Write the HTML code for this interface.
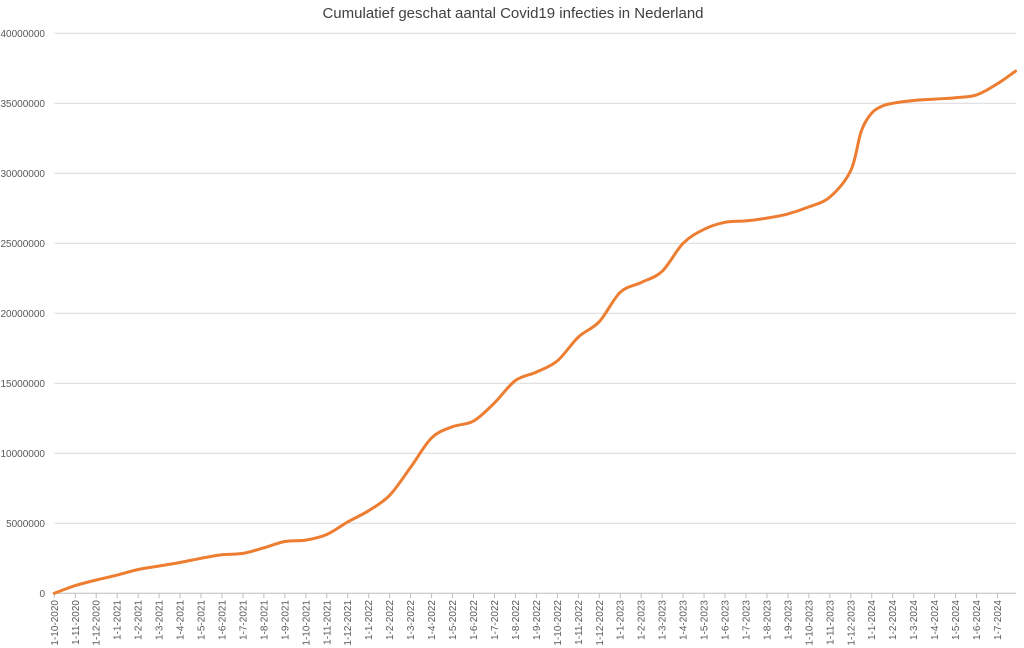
<!DOCTYPE html>
<html><head><meta charset="utf-8"><style>
body{margin:0;background:#fff;}
svg{display:block;font-family:"Liberation Sans",sans-serif;}
</style></head><body>
<svg id="chart" width="1024" height="648">
<text x="513" y="18" text-anchor="middle" font-size="15" fill="#404040">Cumulatief geschat aantal Covid19 infecties in Nederland</text>
<g id="grid"></g><g id="yticks"></g><g id="xticks"></g><g id="series"></g>
</svg>
<script>
const yTicks=[0,5000000,10000000,15000000,20000000,25000000,30000000,35000000,40000000];
const xLabels=["1-10-2020","1-11-2020","1-12-2020","1-1-2021","1-2-2021","1-3-2021","1-4-2021","1-5-2021","1-6-2021","1-7-2021","1-8-2021","1-9-2021","1-10-2021","1-11-2021","1-12-2021","1-1-2022","1-2-2022","1-3-2022","1-4-2022","1-5-2022","1-6-2022","1-7-2022","1-8-2022","1-9-2022","1-10-2022","1-11-2022","1-12-2022","1-1-2023","1-2-2023","1-3-2023","1-4-2023","1-5-2023","1-6-2023","1-7-2023","1-8-2023","1-9-2023","1-10-2023","1-11-2023","1-12-2023","1-1-2024","1-2-2024","1-3-2024","1-4-2024","1-5-2024","1-6-2024","1-7-2024"];
const monthIdx=[0,1,2,3,4,5,6,7,8,9,10,11,12,13,14,15,16,17,18,19,20,21,22,23,24,25,26,27,28,29,30,31,32,33,34,35,36,37,38,38.5,39,39.5,40,41,42,43,44,45,45.86];
const values=[0,0.55,0.95,1.3,1.7,1.95,2.2,2.5,2.75,2.85,3.25,3.7,3.8,4.2,5.1,5.9,7.0,9.0,11.1,11.9,12.3,13.6,15.2,15.8,16.6,18.3,19.4,21.5,22.2,23.0,25.0,26.0,26.5,26.6,26.8,27.1,27.6,28.3,30.2,33.0,34.3,34.8,35.0,35.2,35.3,35.4,35.6,36.4,37.3].map(v=>v*1e6);
const X0=54.3,XM=20.96,Y0=593.3,YS=70/5000000,XR=1016;
const xs=m=>X0+m*XM, ys=v=>Y0-v*YS;
const NS="http://www.w3.org/2000/svg";
function mk(t,a,p){const e=document.createElementNS(NS,t);for(const k in a)e.setAttribute(k,a[k]);p.appendChild(e);return e;}
const grid=document.getElementById('grid'),yt=document.getElementById('yticks'),xt=document.getElementById('xticks'),se=document.getElementById('series');
yTicks.forEach(v=>{
 const l=mk('line',{x1:X0,x2:XR,y1:ys(v),y2:ys(v),stroke:v===0?'#bfbfbf':'#d9d9d9','stroke-width':1},grid);
 
 
 const t=mk('text',{x:45,y:ys(v)+3.5,'text-anchor':'end','font-size':10,fill:'#595959'},yt);
 t.textContent=String(v);
 
 
});
xLabels.forEach((s,i)=>{
 const x=xs(i);
 const tk=mk('line',{x1:x,x2:x,y1:Y0,y2:Y0+5,stroke:'#bfbfbf'},xt);
 
 
 const t=mk('text',{transform:`translate(${x+3.5},600) rotate(-90)`,'text-anchor':'end','font-size':10,fill:'#595959'},xt);
 t.textContent=s;
 
 
});
const pts=monthIdx.map((m,i)=>[xs(m),ys(values[i])]);
let d=`M${pts[0][0]},${pts[0][1]}`;
for(let i=0;i<pts.length-1;i++){
 const p0=pts[Math.max(0,i-1)],p1=pts[i],p2=pts[i+1],p3=pts[Math.min(pts.length-1,i+2)];
 const c1=[p1[0]+(p2[0]-p0[0])/6,p1[1]+(p2[1]-p0[1])/6],c2=[p2[0]-(p3[0]-p1[0])/6,p2[1]-(p3[1]-p1[1])/6];
 d+=`C${c1[0]},${c1[1]} ${c2[0]},${c2[1]} ${p2[0]},${p2[1]}`;
}
const path=mk('path',{d:d,fill:'none',stroke:'#ed7d31','stroke-width':3,'stroke-linejoin':'round','stroke-linecap':'round'},se);


</script>
</body></html>
